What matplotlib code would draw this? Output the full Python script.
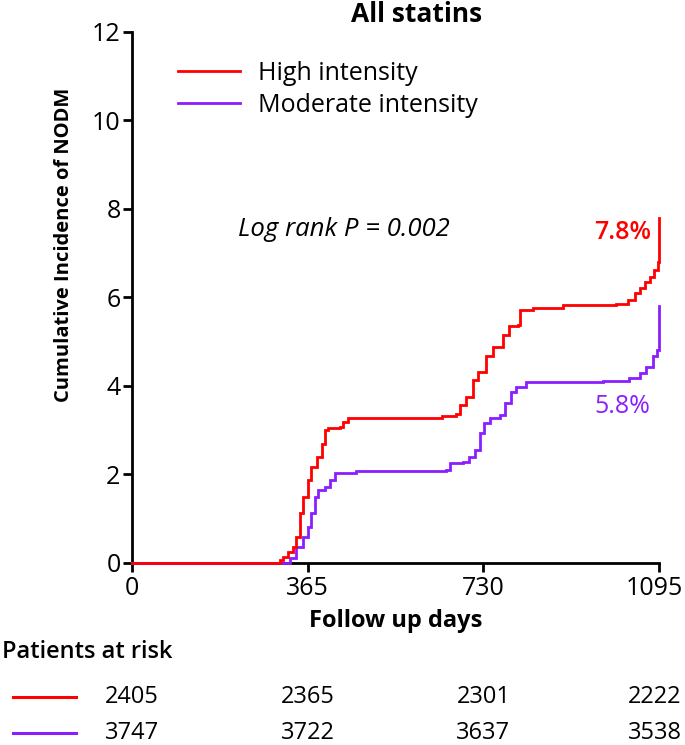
import matplotlib
matplotlib.use("Agg")
import matplotlib.pyplot as plt
from matplotlib.lines import Line2D
from matplotlib.transforms import blended_transform_factory, ScaledTranslation

plt.rcParams['font.family'] = ['Open Sans', 'DejaVu Sans']

# ---- data ----
high_days = [0, 287, 307, 314, 325, 335, 342, 349, 356, 366, 373, 384, 394, 401, 408,
             432, 439, 449, 625, 643, 674, 681, 694, 708, 719, 736, 750, 770, 784, 801,
             805, 833, 895, 1005, 1030, 1044, 1054, 1065, 1075, 1085, 1092, 1095]
high_vals = [0.0, 0.0, 0.06, 0.14, 0.25, 0.36, 0.59, 1.12, 1.49, 1.87, 2.17, 2.40, 2.69, 2.99, 3.04,
             3.07, 3.19, 3.26, 3.26, 3.31, 3.37, 3.56, 3.75, 4.13, 4.32, 4.66, 4.88, 5.15, 5.34, 5.37,
             5.71, 5.75, 5.82, 5.85, 5.94, 6.09, 6.20, 6.35, 6.46, 6.61, 6.80, 7.8]

mod_days = [0, 314, 328, 342, 356, 366, 373, 380, 387, 401, 411, 422, 466, 653, 660, 688,
            701, 712, 722, 732, 743, 764, 774, 788, 798, 819, 978, 1033, 1054, 1068, 1082,
            1090, 1095]
mod_vals = [0.0, 0.0, 0.10, 0.36, 0.59, 0.81, 1.12, 1.49, 1.64, 1.72, 1.87, 2.02, 2.07, 2.10, 2.25, 2.28,
            2.40, 2.55, 2.92, 3.15, 3.26, 3.34, 3.60, 3.86, 3.98, 4.09, 4.11, 4.17, 4.28, 4.43, 4.66,
            4.81, 5.8]

series_labels = ["High intensity", "Moderate intensity"]
series_colors = ["#FF0000", "#8B1EFF"]
final_labels = ["7.8%", "5.8%"]

x_ticks = [0, 365, 730, 1095]
y_ticks = [0, 2, 4, 6, 8, 10, 12]

risk_days = [0, 365, 730, 1085]
risk_high = [2405, 2365, 2301, 2222]
risk_mod = [3747, 3722, 3637, 3538]

W, H = 685, 745
fig = plt.figure(figsize=(W / 100, H / 100), dpi=100)
ax = fig.add_axes([131.7 / W, 1 - 562.7 / H, (659.3 - 131.7) / W, (562.7 - 31.7) / H])

lw = 2.0
ax.step(mod_days, mod_vals, where='post', color=series_colors[1], lw=lw,
        clip_on=False, zorder=4, label=series_labels[1], solid_joinstyle='miter')
ax.step(high_days, high_vals, where='post', color=series_colors[0], lw=lw,
        clip_on=False, zorder=5, label=series_labels[0], solid_joinstyle='miter')

ax.set_xlim(0, 1095)
ax.set_ylim(0, 12)
ax.set_xticks(x_ticks)
ax.set_yticks(y_ticks)
for s in ['top', 'right']:
    ax.spines[s].set_visible(False)
for s in ['left', 'bottom']:
    ax.spines[s].set_linewidth(2.0)
ax.tick_params(axis='both', width=2.0, length=6.5, labelsize=18, pad=1.5, direction='out')
ax.tick_params(axis='x', pad=3)

# keep the last x tick label inside the figure
last_lbl = ax.get_xticklabels()[-1]
last_lbl.set_transform(last_lbl.get_transform() + ScaledTranslation(-5 / 100, 0, fig.dpi_scale_trans))

ax.set_xlabel("Follow up days", fontsize=17, fontweight='bold', labelpad=6)
ax.set_ylabel("Cumulative Incidence of NODM", fontsize=14.5, fontweight='bold')
ax.yaxis.set_label_coords((74 - 131.7) / (659.3 - 131.7), (562.7 - 245) / (562.7 - 31.7))

fig.text(417 / W, 1 - 15 / H, "All statins", fontsize=19, fontweight='bold',
         ha='center', va='center')

# legend
handles, labels = ax.get_legend_handles_labels()
order = [1, 0]
leg = ax.legend([handles[i] for i in order], [labels[i] for i in order],
                loc='upper left', bbox_to_anchor=(178 / W, 1 - 61 / H),
                bbox_transform=fig.transFigure, frameon=False, fontsize=18,
                handlelength=2.48, handletextpad=0.72, labelspacing=0.28,
                borderpad=0, borderaxespad=0)

ax.text(440, 7.52, "Log rank P = 0.002", fontsize=18.5, fontstyle='italic',
        ha='center', va='center')
ax.text(1077, high_vals[-1] - 0.33, final_labels[0], color=series_colors[0],
        fontsize=18, fontweight='semibold', ha='right', va='center')
ax.text(1077, 3.53, final_labels[1], color=series_colors[1],
        fontsize=18, ha='right', va='center')

# risk table
fig.text(2 / W, 1 - 652 / H, "Patients at risk", fontsize=17, fontweight='semibold',
         ha='left', va='center')
tr = blended_transform_factory(ax.transData, fig.transFigure)
for row_y, vals, col in [(697, risk_high, series_colors[0]), (733, risk_mod, series_colors[1])]:
    fig.add_artist(Line2D([13 / W, 76 / W], [1 - row_y / H, 1 - row_y / H],
                          transform=fig.transFigure, color=col, lw=2.2))
    for d, v in zip(risk_days, vals):
        ax.text(d, 1 - row_y / H, str(v), transform=tr, fontsize=17,
                ha='center', va='center')

fig.savefig("out.png", dpi=100)
